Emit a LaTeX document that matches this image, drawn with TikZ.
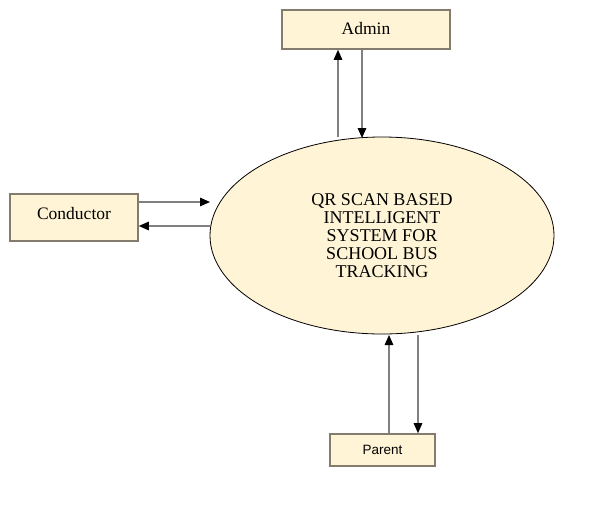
\documentclass[tikz,border=0pt]{standalone}
\usepackage{fontspec}
\setmainfont{Liberation Serif}
\newfontfamily\sansf{Liberation Sans}
\usetikzlibrary{arrows.meta,shapes.geometric}
\definecolor{cream}{HTML}{FFF4D6}
\definecolor{boxborder}{HTML}{827B6E}
\definecolor{linegray}{HTML}{808080}
\begin{document}
\begin{tikzpicture}[x=1pt,y=-1pt,
  entity/.style={draw=boxborder,line width=1.6pt,fill=cream,inner sep=0pt,anchor=center},
  flow/.style={draw=linegray,line width=1.3pt,-{Triangle[length=10pt,width=8.5pt,fill=black,color=black]}},
]
\useasboundingbox[fill=white] (0,0) rectangle (594,506);
\node[entity,minimum width=168pt,minimum height=39pt,font=\fontsize{17.5}{20}\selectfont] (admin) at (366,29.5) {\raisebox{1.5pt}{Admin}};
\node[entity,minimum width=128pt,minimum height=47pt,font=\fontsize{17.5}{20}\selectfont] (cond) at (74,217.5) {\raisebox{8.5pt}{Conductor}};
\node[entity,minimum width=105pt,minimum height=32pt,font=\sansf\fontsize{13.5}{15}\selectfont] (parent) at (382.5,450) {Parent};
\node[ellipse,draw=black,line width=0.8pt,fill=cream,minimum width=344pt,minimum height=197pt,inner sep=0pt,
  align=center,font=\fontsize{18}{18}\selectfont] (sys) at (382,235.5)
  {QR SCAN BASED\\INTELLIGENT\\SYSTEM FOR\\SCHOOL BUS\\TRACKING};
% connection points
\coordinate (a1) at (338,137);
\coordinate (a2) at (362,138);
\coordinate (c1) at (210,202);
\coordinate (c2) at (210,226);
\coordinate (p1) at (389,335);
\coordinate (p2) at (418,335);
\draw[flow] (a1) -- (a1 |- admin.south);
\draw[flow] (a2 |- admin.south) -- (a2);
\draw[flow] (cond.east |- c1) -- (c1);
\draw[flow] (c2) -- (cond.east |- c2);
\draw[flow] (p1 |- parent.north) -- (p1);
\draw[flow] (p2) -- (p2 |- parent.north);
\end{tikzpicture}
\end{document}
